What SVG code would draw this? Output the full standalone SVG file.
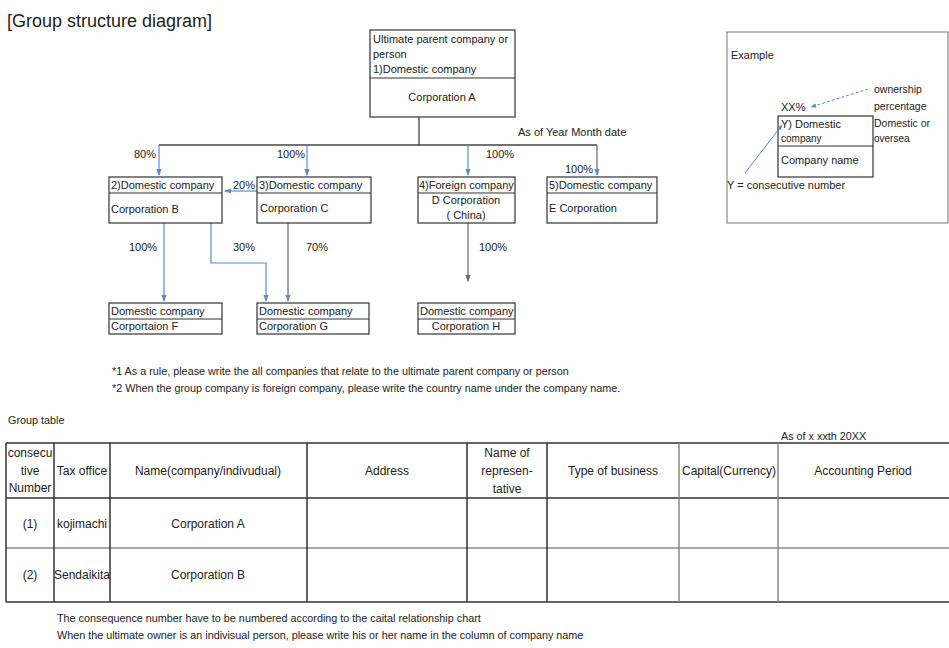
<svg xmlns="http://www.w3.org/2000/svg" width="949" height="648" viewBox="0 0 949 648">
<defs>
<style>
text{font-family:"Liberation Sans",Arial,sans-serif;fill:#222}
.t{font-size:11px}
.s{font-size:10.8px}
.tb{font-size:12px}
.m{text-anchor:middle}
.box{fill:#fff;stroke:#333;stroke-width:1.2}
.dv{stroke:#333;stroke-width:1.2}
.blue{fill:none;stroke:#5b8bd0;stroke-width:1.2}
.gray{fill:none;stroke:#666;stroke-width:1.2}
.dark{fill:none;stroke:#444;stroke-width:1.3}
.tl{stroke:#333;stroke-width:1.5}
.tg{stroke:#888;stroke-width:1.5}
</style>
<marker id="ab" viewBox="0 0 8 8" refX="7" refY="4" markerWidth="6" markerHeight="6" orient="auto"><path d="M0,1 L8,4 L0,7 z" fill="#5b8bd0"/></marker>
<marker id="ag" viewBox="0 0 8 8" refX="7" refY="4" markerWidth="6" markerHeight="6" orient="auto"><path d="M0,1 L8,4 L0,7 z" fill="#666"/></marker>
</defs>
<rect width="949" height="648" fill="#fff"/>
<text x="7" y="27" style="font-size:18px">[Group structure diagram]</text>

<g id="connectors">
<path class="dark" d="M419,117 V145 M159,145 H597"/>
<path class="blue" d="M159,145 V175" marker-end="url(#ab)"/>
<path class="blue" d="M307,145 V175" marker-end="url(#ab)"/>
<path class="blue" d="M468,145 V175" marker-end="url(#ab)"/>
<path class="gray" d="M597,145 V175" marker-end="url(#ab)"/>
<path class="blue" d="M257,191 H225" marker-end="url(#ab)"/>
<path class="blue" d="M164,223 V301" marker-end="url(#ab)"/>
<path class="blue" d="M211,223 V263 H266 V301" marker-end="url(#ab)"/>
<path class="gray" d="M288,223 V301" marker-end="url(#ab)"/>
<path class="gray" d="M468,223 V281" marker-end="url(#ag)"/>
<text x="134" y="158" class="t">80%</text>
<text x="277" y="158" class="t">100%</text>
<text x="486" y="158" class="t">100%</text>
<text x="565" y="173" class="t">100%</text>
<text x="233" y="189" class="t">20%</text>
<text x="129" y="251" class="t">100%</text>
<text x="233" y="251" class="t">30%</text>
<text x="306" y="251" class="t">70%</text>
<text x="479" y="251" class="t">100%</text>
<text x="518" y="136" class="t">As of Year Month date</text>
</g>

<g id="nodeA">
<rect class="box" x="370" y="30" width="145" height="87"/>
<line class="dv" x1="370" y1="78" x2="515" y2="78"/>
<text x="373" y="43" class="t">Ultimate parent company or</text>
<text x="373" y="58" class="t">person</text>
<text x="373" y="73" class="t">1)Domestic company</text>
<text x="442" y="101" class="t m">Corporation A</text>
</g>
<g id="nodeB">
<rect class="box" x="109" y="177" width="113" height="46"/>
<line class="dv" x1="109" y1="193" x2="222" y2="193"/>
<text x="111" y="189" class="t">2)Domestic company</text>
<text x="111" y="213" class="t">Corporation B</text>
</g>
<g id="nodeC">
<rect class="box" x="257" y="177" width="114" height="46"/>
<line class="dv" x1="257" y1="193" x2="371" y2="193"/>
<text x="259" y="189" class="t">3)Domestic company</text>
<text x="260" y="212" class="t">Corporation C</text>
</g>
<g id="nodeD">
<rect class="box" x="418" y="177" width="97" height="46"/>
<line class="dv" x1="418" y1="193" x2="515" y2="193"/>
<text x="419" y="189" class="t">4)Foreign company</text>
<text x="466" y="204" class="t m">D Corporation</text>
<text x="466" y="219" class="t m">( China)</text>
</g>
<g id="nodeE">
<rect class="box" x="547" y="177" width="110" height="46"/>
<line class="dv" x1="547" y1="193" x2="657" y2="193"/>
<text x="549" y="189" class="t">5)Domestic company</text>
<text x="549" y="212" class="t">E Corporation</text>
</g>
<g id="nodeF">
<rect class="box" x="109" y="303" width="113" height="31"/>
<line class="dv" x1="109" y1="319" x2="222" y2="319"/>
<text x="111" y="315" class="t">Domestic company</text>
<text x="111" y="330" class="t">Corportaion F</text>
</g>
<g id="nodeG">
<rect class="box" x="257" y="303" width="112" height="31"/>
<line class="dv" x1="257" y1="319" x2="369" y2="319"/>
<text x="259" y="315" class="t">Domestic company</text>
<text x="259" y="330" class="t">Corporation G</text>
</g>
<g id="nodeH">
<rect class="box" x="418" y="303" width="97" height="31"/>
<line class="dv" x1="418" y1="319" x2="515" y2="319"/>
<text x="420" y="315" class="t">Domestic company</text>
<text x="466" y="330" class="t m">Corporation H</text>
</g>

<g id="example">
<rect x="727" y="32" width="221" height="191" fill="#fff" stroke="#777" stroke-width="1"/>
<text x="731" y="59" class="t">Example</text>
<rect class="box" x="778" y="116" width="95" height="61"/>
<line class="dv" x1="778" y1="146" x2="873" y2="146"/>
<text x="781" y="111" class="t">XX%</text>
<text x="781" y="128" class="t">Y) Domestic</text>
<text x="781" y="142" style="font-size:10px">company</text>
<text x="781" y="164" class="t">Company name</text>
<text x="874" y="93" style="font-size:10.5px">ownership</text>
<text x="874" y="110" style="font-size:10.5px">percentage</text>
<text x="874" y="127" style="font-size:10.5px">Domestic or</text>
<text x="874" y="142" style="font-size:10px">oversea</text>
<text x="727" y="189" class="t">Y = consecutive number</text>
<path d="M868,89 L811,107" fill="none" stroke="#5b8bd0" stroke-width="1" stroke-dasharray="3,2" marker-end="url(#ab)"/>
<path d="M745,173 L782,125" fill="none" stroke="#5b8bd0" stroke-width="1" marker-end="url(#ab)"/>
</g>

<g id="notes">
<text x="112" y="375" class="s">*1 As a rule, please write the all companies that relate to the ultimate parent company or person</text>
<text x="112" y="392" class="s">*2 When the group company is foreign company, please write the country name under the company name.</text>
<text x="8" y="424" class="s">Group table</text>
<text x="781" y="440" class="s">As of x  xxth 20XX</text>
<text x="57" y="622" class="s">The consequence number have to be numbered according to the caital relationship chart</text>
<text x="57" y="639" class="s">When the ultimate owner is an indivisual person, please write his or her name in the column of company name</text>
</g>

<g id="table">
<line class="tl" x1="6" y1="443" x2="949" y2="443"/>
<line class="tl" x1="6" y1="498" x2="949" y2="498"/>
<line class="tg" x1="6" y1="548" x2="949" y2="548"/>
<line class="tl" x1="6" y1="602" x2="949" y2="602"/>
<line class="tl" x1="6" y1="443" x2="6" y2="602"/>
<line class="tl" x1="54" y1="443" x2="54" y2="602"/>
<line class="tl" x1="110" y1="443" x2="110" y2="602"/>
<line class="tl" x1="307" y1="443" x2="307" y2="602"/>
<line class="tl" x1="467" y1="443" x2="467" y2="602"/>
<line class="tl" x1="547" y1="443" x2="547" y2="602"/>
<line class="tg" x1="679" y1="443" x2="679" y2="602"/>
<line class="tg" x1="778" y1="443" x2="778" y2="602"/>
<text x="30" y="457" class="tb m">consecu</text>
<text x="30" y="475" class="tb m">tive</text>
<text x="30" y="492" class="tb m">Number</text>
<text x="82" y="475" class="tb m">Tax office</text>
<text x="208" y="475" class="tb m">Name(company/indivudual)</text>
<text x="387" y="475" class="tb m">Address</text>
<text x="507" y="457" class="tb m">Name of</text>
<text x="507" y="475" class="tb m">represen-</text>
<text x="507" y="493" class="tb m">tative</text>
<text x="613" y="475" class="tb m">Type of business</text>
<text x="729" y="475" class="tb m">Capital(Currency)</text>
<text x="863" y="475" class="tb m">Accounting Period</text>
<text x="30" y="528" class="tb m">(1)</text>
<text x="82" y="528" class="tb m">kojimachi</text>
<text x="208" y="528" class="tb m">Corporation A</text>
<text x="30" y="579" class="tb m">(2)</text>
<text x="82" y="579" class="tb m">Sendaikita</text>
<text x="208" y="579" class="tb m">Corporation B</text>
</g>
</svg>
